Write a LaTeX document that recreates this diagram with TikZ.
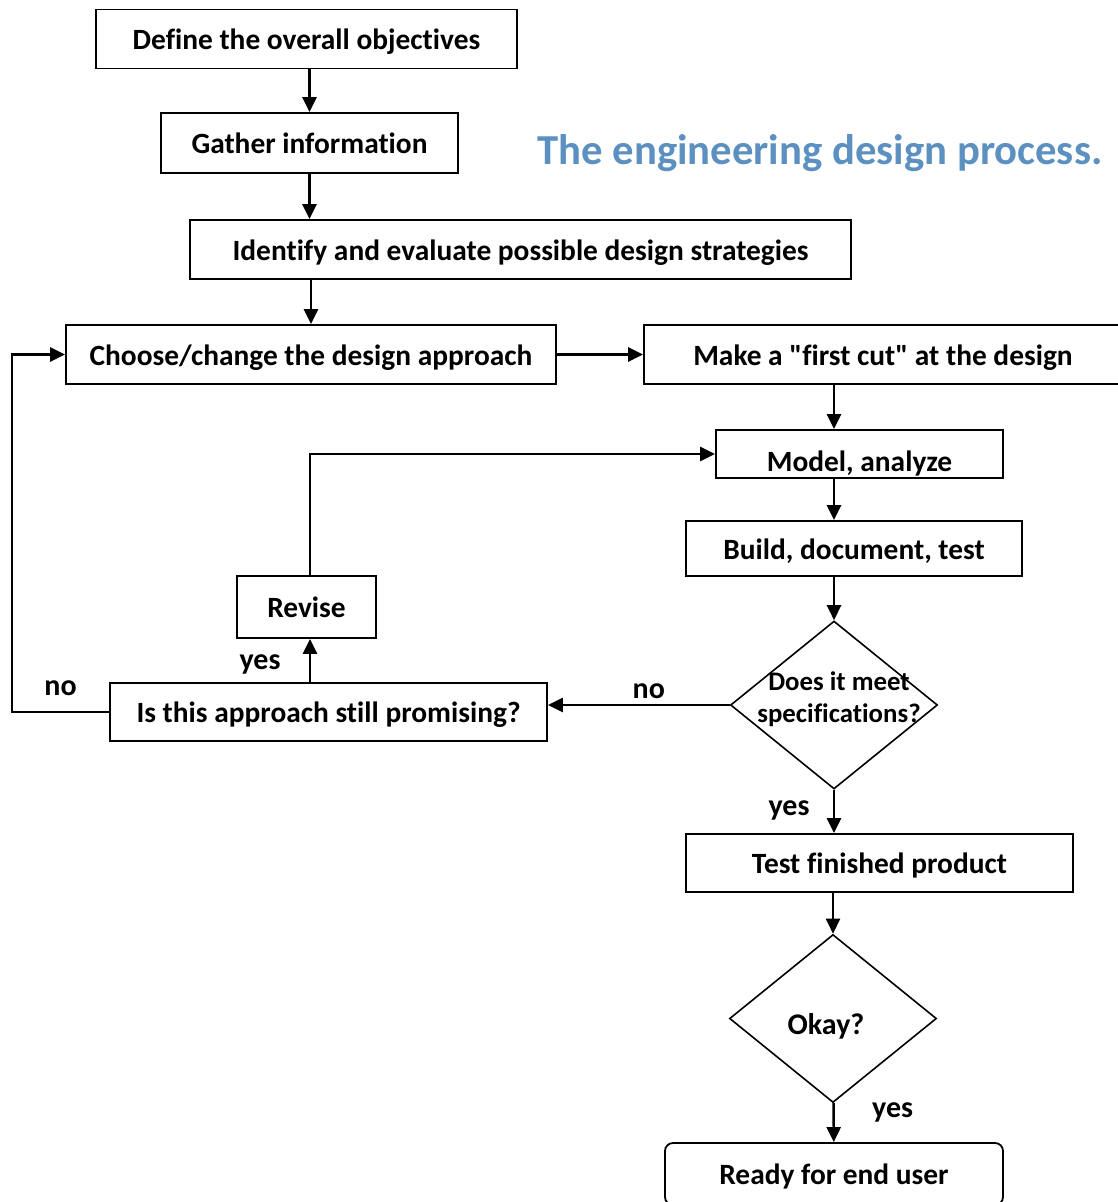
\documentclass[tikz,border=0pt]{standalone}
\usepackage{fontspec}
\setmainfont{Carlito}[Ligatures=NoCommon]
\usetikzlibrary{arrows.meta,shapes.geometric,positioning}
\definecolor{titleblue}{RGB}{92,144,192}
\tikzset{
    box/.style={draw, line width=1.8pt, inner sep=0pt, minimum height=59pt, text height=23pt, text depth=2pt, font=\fontsize{29.4}{34}\selectfont\bfseries},
    decision/.style={draw, diamond, line width=1.6pt, inner sep=0pt, minimum width=207pt, minimum height=168pt, font=\fontsize{26.8}{32}\selectfont\bfseries},
    arr/.style={line width=2.4pt, -{Triangle[length=15pt,width=14pt]}},
    lbl/.style={font=\fontsize{30}{34}\selectfont\bfseries}
}
\begin{document}
\begin{tikzpicture}[x=1pt, y=-1pt]
            \useasboundingbox (0,0) rectangle (1118,1202);
            \node[box, minimum width=421pt] (1) at (306.5,39) {Define the overall objectives};
            \node[box, minimum width=297pt, minimum height=60pt] (2) at (309.5,143) {Gather information};
            \node[box, minimum width=661pt] (3) at (520.5,249.5) {Identify and evaluate possible design strategies};
            \node[box, minimum width=490pt] (4) at (311,354.5) {Choose/change the design approach};
            \node[box, minimum width=478pt] (5) at (883,354.5) {Make a \textquotedbl first cut\textquotedbl{} at the design};
            \node[box, minimum width=287pt, minimum height=48pt] (6) at (859.5,454) {\raisebox{-7pt}{Model, analyze}};
            \node[box, minimum width=336pt, minimum height=55pt] (7) at (854,548.5) {Build, document, test};
            \node[decision] (8) at (834,705) {\smash{\makebox[0pt]{\hspace{10pt}\raisebox{-1pt}{\begin{tabular}{@{}c@{}}Does it meet\\specifications?\end{tabular}}}}};
            \node[box, minimum width=139pt, minimum height=62pt] (9) at (306.5,607) {Revise};
            \node[box, minimum width=437pt, minimum height=58pt] (10) at (328.5,712) {Is this approach still promising?};
            \node[box, minimum width=387pt, minimum height=58pt] (11) at (879.5,863) {Test finished product};
            \node[decision, font=\fontsize{30}{34}\selectfont\bfseries] (12) at (833,1018.5) {\hspace{-14pt}\smash{\raisebox{-15.5pt}{Okay?}}};
            \node[box, rounded corners=8pt, minimum width=338pt, minimum height=62pt] (13) at (834,1174) {Ready for end user};
            \node[font=\fontsize{42.7}{48}\selectfont\bfseries, text=titleblue] (14) at (820,153) {The engineering design process.};
            \coordinate (15) at (12,0);
            \coordinate (16) at (310,0);

            \draw[arr] (1.south -| 2) -- (2);
            \draw[arr] (2) -- (2 |- 3.north);
            \draw[arr] (3.south -| 4) -- (4);
            \draw[arr] (4) -- (5);
            \draw[arr] (5.south -| 8) -- (6.north -| 8);
            \draw[arr] (6.south -| 8) -- (7.north -| 8);
            \draw[arr] (7.south -| 8) -- (8);
            \draw[arr] (8.west) -- (8.west -| 10.east) node[lbl, midway, above, xshift=10pt, yshift=2pt] {no};
            \draw[arr] (10.north -| 16) -- (9.south -| 16) node[lbl, midway, left, xshift=-25pt, yshift=-4pt] {yes};
            \draw[arr] (9.north -| 16) |- (6.west);
            \draw[arr] (10.west) -- node[lbl, above, yshift=12pt] {no} (15 |- 10.west) |- (4.west);
            \draw[arr] (8.south) -- (8.south |- 11.north) node[lbl, midway, left, xshift=-20pt, yshift=1pt] {yes};
            \draw[arr] (11.south -| 12) -- (12);
            \draw[arr] (12) -- (13) node[lbl, pos=0.2, right, xshift=34pt, yshift=-2pt] {yes};
        \end{tikzpicture}
\end{document}
